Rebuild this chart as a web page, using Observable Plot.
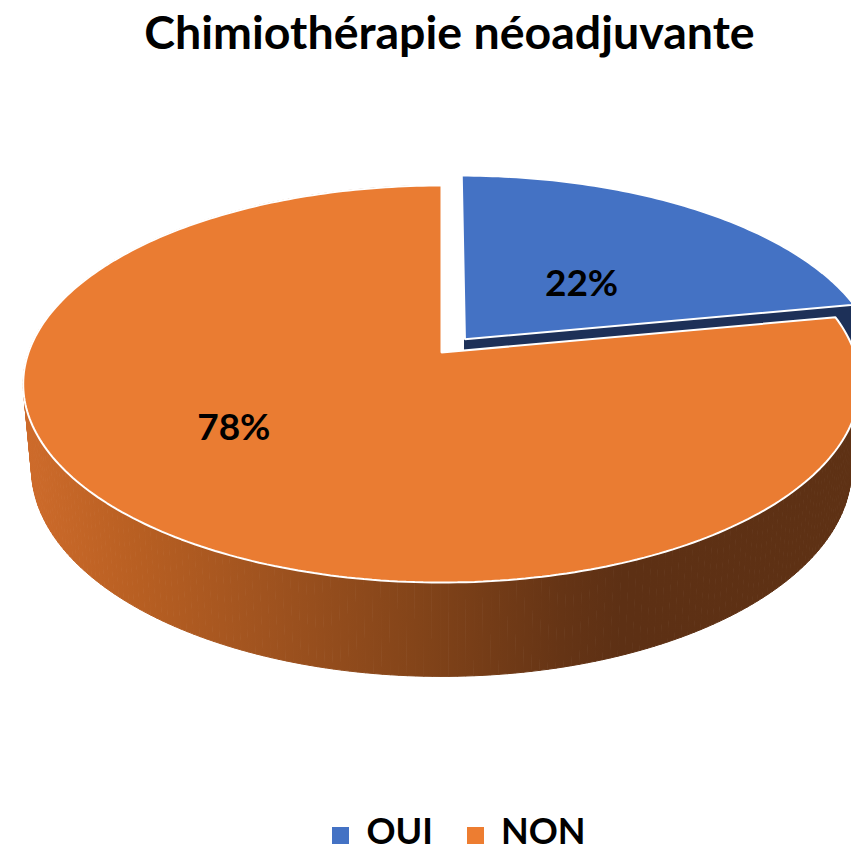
<!DOCTYPE html>
<html>
<head>
<meta charset="utf-8">
<script src="https://cdn.jsdelivr.net/npm/d3@7"></script>
<script src="https://cdn.jsdelivr.net/npm/@observablehq/plot@0.6"></script>
<style>
  html, body { margin: 0; padding: 0; background: #fff; }
  body { position: relative; width: 851px; height: 854px; overflow: hidden; font-family: Lato, "Open Sans", sans-serif; }
  #title { height: 80px; line-height: 62px; padding-left: 48px; text-align: center; font-weight: 700; font-size: 46.5px; color: #000; white-space: nowrap; }
  #chart { height: 720px; }
  #legend { position: absolute; top: 812px; left: 67px; right: 0; height: 36px; line-height: 36px; display: flex; justify-content: center; align-items: center; font-weight: 700; font-size: 36px; color: #000; }
  .item { display: flex; align-items: center; }
  .sw { width: 17px; height: 17px; margin-right: 17px; position: relative; top: 5px; }
  .item + .item { margin-left: 34px; }
</style>
</head>
<body>
<div id="title">Chimiothérapie néoadjuvante</div>
<div id="chart"></div>
<div id="legend"></div>
<script>
// ---- data ----
const categories = ["OUI", "NON"];
const values = [22, 78];
const topColors = ["#4472c4", "#ea7c32"];
const sideColors = ["#1d3058", "url(#wallGrad)"];
const legendColors = ["#4472c4", "#ed7d31"];
const explode = [0.09, 0];

// ---- 3D perspective projection of a tilted pie ----
const sinA = 0.4685, cosA = Math.sqrt(1 - sinA * sinA), d0 = 5.567, T = 0.234;
function proj(u, v, z) {
  const depth = d0 + v * cosA - z * sinA;
  return { x: u * d0 / depth, y: (v * sinA + z * cosA) * d0 / (depth * sinA) };
}

const arcs = d3.pie().sort(null).value(d => d)(values);
const slices = arcs.map((a, i) => {
  const mid = (a.startAngle + a.endAngle) / 2;
  return { i, name: categories[i], value: values[i], a0: a.startAngle, a1: a.endAngle, mid,
           ou: explode[i] * Math.sin(mid), ov: explode[i] * Math.cos(mid) };
});

function angles(a0, a1) {
  const n = Math.max(2, Math.ceil((a1 - a0) / (Math.PI / 180)));
  return d3.range(n + 1).map(j => a0 + (a1 - a0) * j / n);
}
function rim(s, phi, z) { return proj(s.ou + Math.sin(phi), s.ov + Math.cos(phi), z); }

function topFace(s) {
  const c = proj(s.ou, s.ov, 0);
  return [c, ...angles(s.a0, s.a1).map(p => rim(s, p, 0))].map(p => ({ ...p, id: s.name }));
}
function walls(s) {
  const as = angles(s.a0, s.a1);
  const out = [];
  for (let j = 0; j < as.length - 1; j++) {
    const q = [rim(s, as[j], 0), rim(s, as[j + 1], 0), rim(s, as[j + 1], -T), rim(s, as[j], -T)];
    q.forEach(p => out.push({ ...p, id: s.name + j }));
  }
  return out;
}
function radialFace(s, phi) {
  return [proj(s.ou, s.ov, 0), rim(s, phi, 0), rim(s, phi, -T), proj(s.ou, s.ov, -T)]
    .map(p => ({ ...p, id: s.name + "r" }));
}

// label placement (layout)
const labelLayout = [{ r: 0.43, turn: 5 }, { r: 0.60, turn: 12.5 }];
const labels = slices.map(s => {
  const L = labelLayout[s.i];
  const ang = s.mid + L.turn * Math.PI / 180;
  const p = proj(s.ou + L.r * Math.sin(ang), s.ov + L.r * Math.cos(ang), 0);
  return { ...p, text: s.value + "%" };
});

const oui = slices[0], non = slices[1];
const lineOpts = (fill, extra = {}) => ({ x: "x", y: "y", z: "id", curve: "linear-closed", fill, ...extra });

const plot = Plot.plot({
  width: 851,
  height: 720,
  margin: 0,
  x: { domain: [-1, 1], range: [28, 854], axis: null },
  y: { domain: [-1, 1], range: [465.5, 78.5], axis: null },
  marks: [
    Plot.line(radialFace(oui, oui.a1), lineOpts(sideColors[0], { stroke: sideColors[0], strokeWidth: 1 })),
    Plot.line(topFace(oui), lineOpts(topColors[0], { stroke: "white", strokeWidth: 2, strokeLinejoin: "miter" })),
    Plot.line(walls(non), lineOpts(sideColors[1], { stroke: sideColors[1], strokeWidth: 1 })),
    Plot.line(topFace(non), lineOpts(topColors[1], { stroke: "white", strokeWidth: 2, strokeLinejoin: "miter" })),
    Plot.text(labels, { x: "x", y: "y", text: "text", fontSize: 37, fontWeight: 700, fill: "black",
                        fontFamily: "Lato, 'Open Sans', sans-serif" })
  ]
});

// horizontal lighting gradient for the pie's side wall
const svg = d3.select(plot);
const grad = svg.insert("defs", ":first-child").append("linearGradient")
  .attr("id", "wallGrad").attr("gradientUnits", "userSpaceOnUse")
  .attr("x1", 0).attr("x2", 851).attr("y1", 0).attr("y2", 0);
[[0.0, "#d06d2c"], [0.04, "#cc6a2a"], [0.16, "#b85f22"], [0.31, "#a0531f"], [0.49, "#834419"],
 [0.66, "#653415"], [0.73, "#5d3014"], [1.0, "#5e3114"]]
  .forEach(([o, c]) => grad.append("stop").attr("offset", o).attr("stop-color", c));

document.getElementById("chart").appendChild(plot);

const legend = d3.select("#legend");
categories.forEach((c, i) => {
  const it = legend.append("div").attr("class", "item");
  it.append("div").attr("class", "sw").style("background", legendColors[i]);
  it.append("span").text(c);
});
</script>
</body>
</html>
